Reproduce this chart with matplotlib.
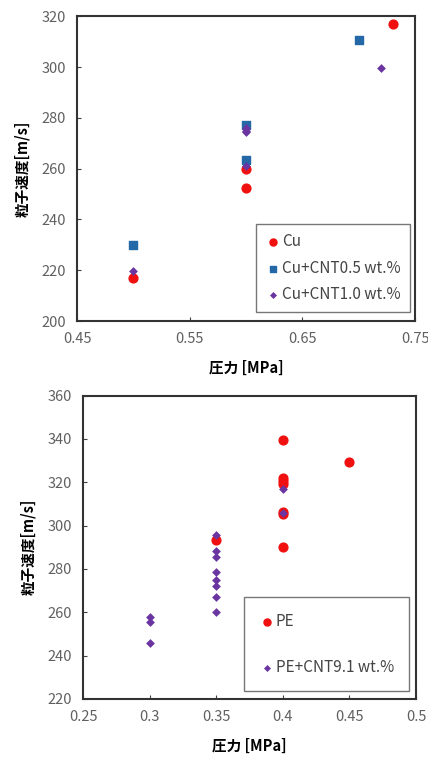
import matplotlib
matplotlib.use("Agg")
import matplotlib.pyplot as plt

plt.rcParams['font.family'] = ['Noto Sans CJK JP', 'DejaVu Sans']

# top chart: Cu powders
cu_x = [0.5, 0.6, 0.6, 0.73]
cu_y = [217, 260, 252.5, 317]
cnt05_x = [0.5, 0.6, 0.6, 0.7]
cnt05_y = [230, 263.5, 277, 310.5]
cnt10_x = [0.5, 0.6, 0.6, 0.6, 0.6, 0.72]
cnt10_y = [219.5, 276, 275, 274.5, 261, 299.5]
top_xticks = [0.45, 0.55, 0.65, 0.75]
top_yticks = [200, 220, 240, 260, 280, 300, 320]

# bottom chart: PE powders
pe_x = [0.35, 0.4, 0.4, 0.4, 0.4, 0.4, 0.4, 0.4, 0.45]
pe_y = [293.5, 339.5, 322, 320.5, 319, 306.5, 305.5, 290, 329.5]
pecnt_x = [0.3, 0.3, 0.3, 0.35, 0.35, 0.35, 0.35, 0.35, 0.35, 0.35, 0.35, 0.4, 0.4]
pecnt_y = [258, 255.5, 246, 295.5, 288.5, 285.5, 278.5, 275, 272, 267, 260, 317, 306]
bot_xticks = [0.25, 0.3, 0.35, 0.4, 0.45, 0.5]
bot_yticks = [220, 240, 260, 280, 300, 320, 340, 360]

RED = '#f01010'
BLUE = '#2468a8'
PURPLE = '#6a35a0'

fig = plt.figure(figsize=(4.28, 7.58), dpi=100)
ax1 = fig.add_axes([0.18, 0.5765, 0.79, 0.402])
ax2 = fig.add_axes([0.194, 0.078, 0.778, 0.40])


def style(ax, xt, yt, xlabels):
    ax.set_xlim(xt[0], xt[-1])
    ax.set_ylim(yt[0], yt[-1])
    ax.set_xticks(xt)
    ax.set_xticklabels(xlabels)
    ax.set_yticks(yt)
    ax.tick_params(direction='in', length=3, colors='#404040', labelsize=10.5,
                   labelcolor='#606060', pad=8)
    for s in ax.spines.values():
        s.set_color('#333333')
        s.set_linewidth(1.5)
    ax.set_xlabel('圧力 [MPa]', fontsize=10.5, fontweight='bold', labelpad=10)
    ax.set_ylabel('粒子速度[m/s]', fontsize=10.5, fontweight='bold', labelpad=8)


ax1.scatter(cu_x, cu_y, s=40, marker='o', color=RED, label='Cu', zorder=3)
ax1.scatter(cnt05_x, cnt05_y, s=30, marker='s', color=BLUE, label='Cu+CNT0.5 wt.%', zorder=3)
ax1.scatter(cnt10_x, cnt10_y, s=20, marker='D', color=PURPLE, label='Cu+CNT1.0 wt.%',
            zorder=4, linewidths=0)
style(ax1, top_xticks, top_yticks, ['0.45', '0.55', '0.65', '0.75'])
leg1 = ax1.legend(loc='lower right', bbox_to_anchor=(0.985, 0.03), borderaxespad=0,
                  fontsize=11, fancybox=False, edgecolor='#555555', handletextpad=0.1,
                  handlelength=1.0, markerscale=0.8, labelspacing=0.6, borderpad=0.6)
leg1.get_frame().set_linewidth(1.0)
for t in leg1.get_texts():
    t.set_color('#444444')

ax2.scatter(pe_x, pe_y, s=40, marker='o', color=RED, label='PE', zorder=3)
ax2.scatter(pecnt_x, pecnt_y, s=20, marker='D', color=PURPLE, label='PE+CNT9.1 wt.%',
            zorder=4, linewidths=0)
style(ax2, bot_xticks, bot_yticks, ['0.25', '0.3', '0.35', '0.4', '0.45', '0.5'])
leg2 = ax2.legend(loc='lower right', bbox_to_anchor=(0.98, 0.026), borderaxespad=0,
                  fontsize=11, fancybox=False, edgecolor='#555555', handletextpad=0.1,
                  handlelength=1.0, markerscale=0.8, labelspacing=1.9, borderpad=1.0)
leg2.get_frame().set_linewidth(1.0)
for t in leg2.get_texts():
    t.set_color('#444444')

fig.savefig('out.png', dpi=100)
